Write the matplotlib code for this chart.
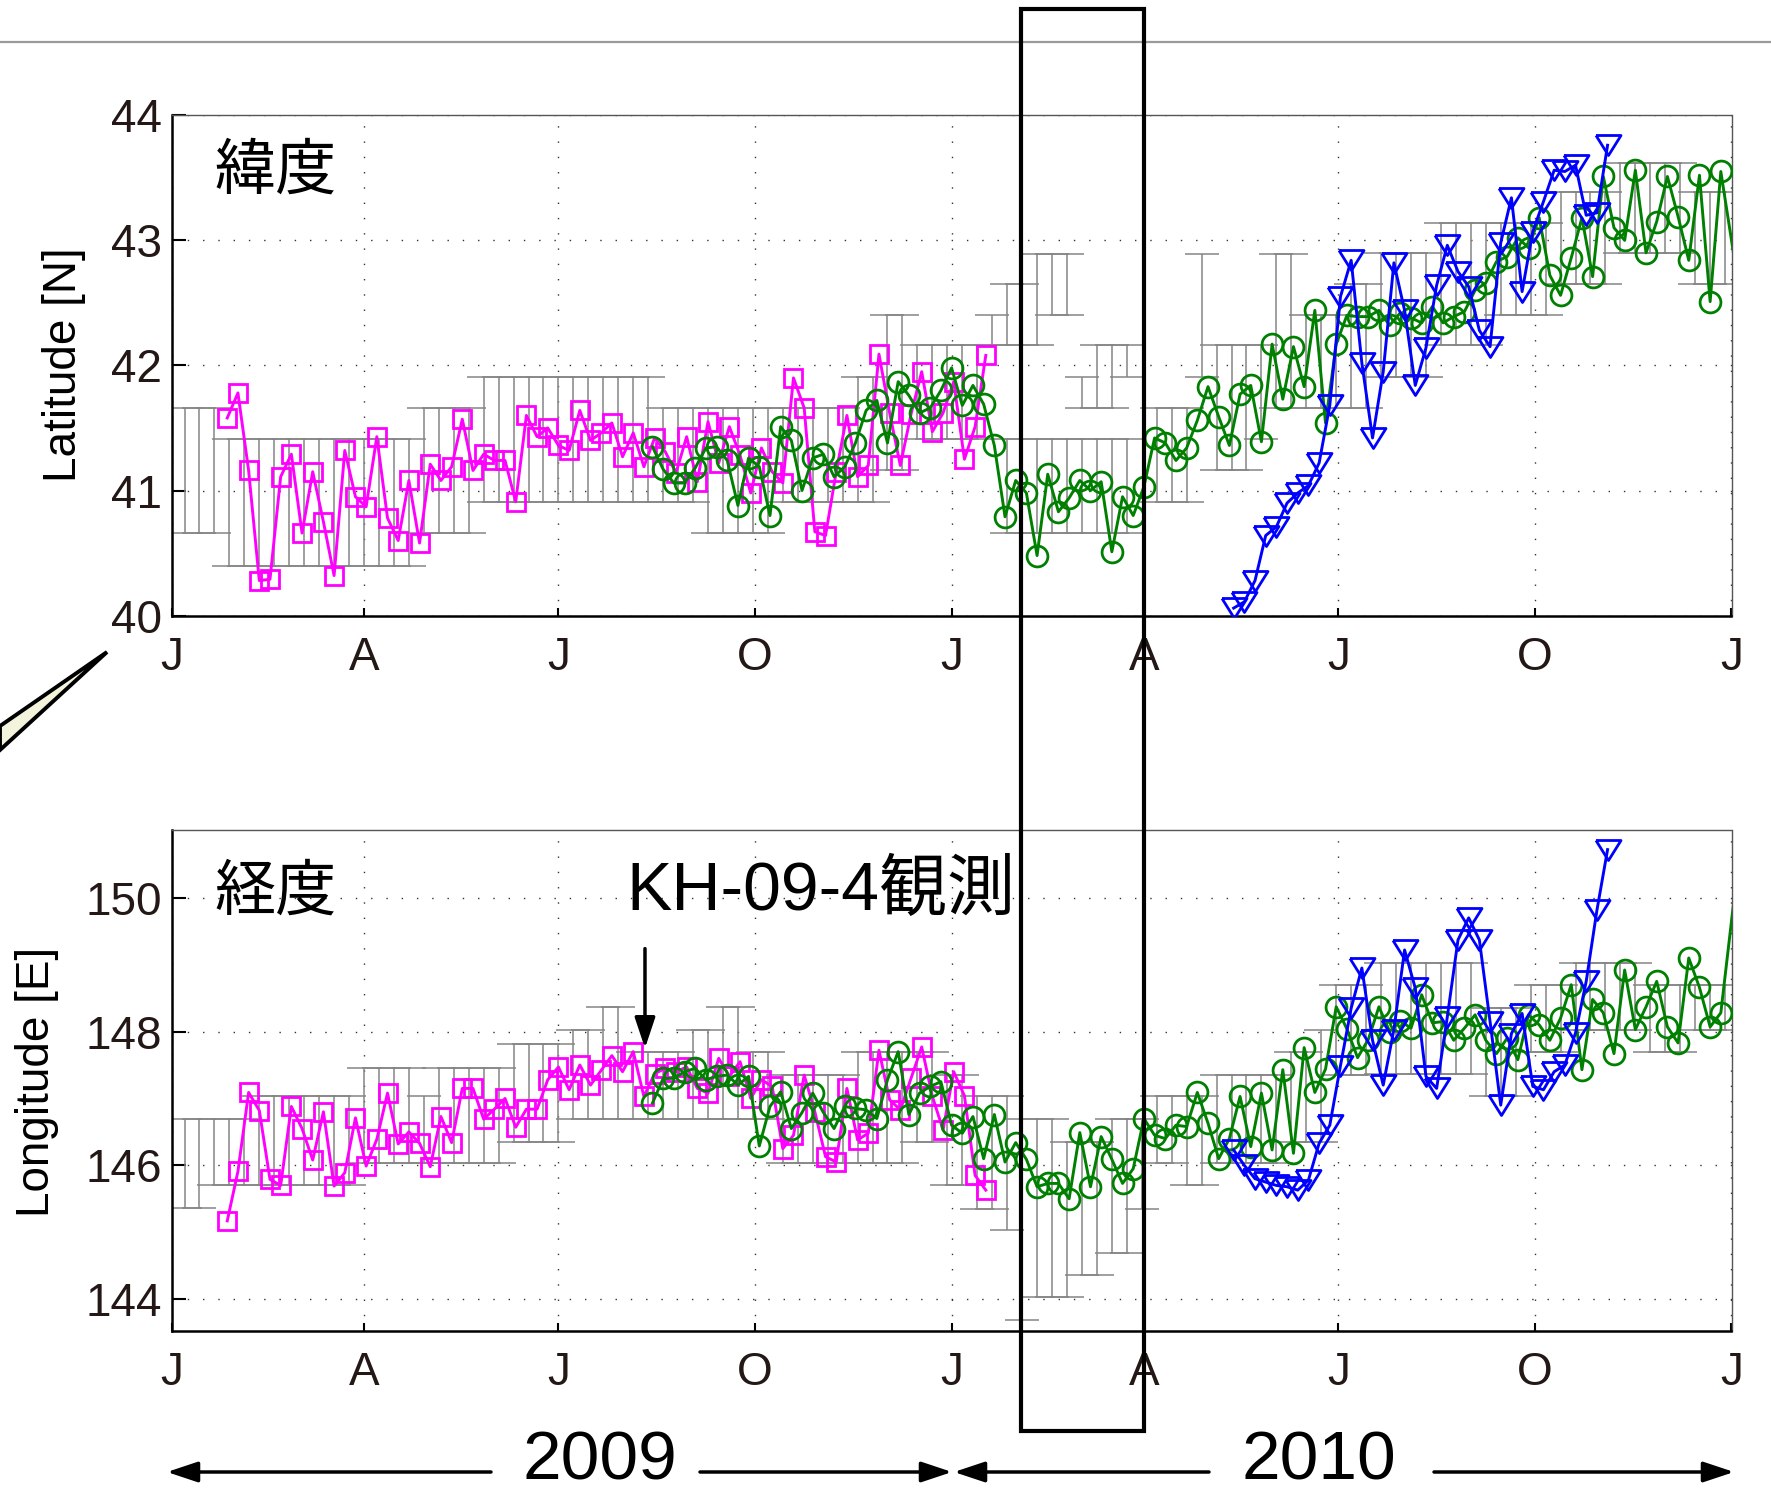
import numpy as np
import matplotlib
matplotlib.use('Agg')
import matplotlib.pyplot as plt
from matplotlib.patches import Polygon, Rectangle, FancyArrowPatch
from matplotlib.lines import Line2D

# days counted from 2009-01-01; float positions every 5 days
mag_day = np.arange(26, 382, 5)
grn_day = np.append(np.arange(225, 730, 5), 736)
blu_day = np.arange(497, 673, 5)

mag_lat = [41.58, 41.78, 41.16, 40.28, 40.29, 41.11, 41.29, 40.66, 41.15, 40.75,
           40.32, 41.32, 40.95, 40.87, 41.43, 40.78, 40.60, 41.08, 40.58, 41.21,
           41.08, 41.19, 41.57, 41.16, 41.29, 41.24, 41.24, 40.91, 41.60, 41.43,
           41.50, 41.36, 41.32, 41.64, 41.40, 41.46, 41.54, 41.27, 41.46, 41.19,
           41.42, 41.31, 41.14, 41.43, 41.07, 41.55, 41.22, 41.51, 41.28, 40.98,
           41.34, 41.15, 41.06, 41.90, 41.66, 40.67, 40.64, 41.15, 41.60, 41.11,
           41.20, 42.09, 41.62, 41.20, 41.61, 41.95, 41.47, 41.62, 41.87, 41.25,
           41.51, 42.08]
mag_lon = [145.17, 145.91, 147.09, 146.82, 145.79, 145.70, 146.88, 146.55, 146.08, 146.80,
           145.69, 145.89, 146.71, 145.99, 146.39, 147.08, 146.32, 146.50, 146.33, 145.98,
           146.73, 146.34, 147.15, 147.15, 146.69, 146.84, 147.00, 146.57, 146.84, 146.84,
           147.28, 147.47, 147.13, 147.50, 147.20, 147.42, 147.64, 147.40, 147.70, 147.03,
           147.37, 147.45, 147.40, 147.47, 147.15, 147.08, 147.60, 147.33, 147.55, 147.00,
           147.28, 147.18, 146.25, 146.45, 147.35, 146.80, 146.13, 146.05, 147.15, 146.38,
           146.48, 147.72, 146.98, 146.83, 147.30, 147.77, 147.03, 146.53, 147.40, 147.04,
           145.85, 145.63]

grn_lat = [41.35, 41.17, 41.06, 41.06, 41.18, 41.34, 41.35, 41.24, 40.88, 41.26,
           41.19, 40.80, 41.51, 41.40, 41.00, 41.26, 41.29, 41.11, 41.19, 41.38,
           41.64, 41.72, 41.38, 41.87, 41.76, 41.62, 41.66, 41.80, 41.98, 41.68,
           41.84, 41.69, 41.36, 40.79, 41.08, 40.98, 40.48, 41.13, 40.83, 40.94,
           41.08, 41.00, 41.07, 40.51, 40.95, 40.80, 41.03, 41.42, 41.38, 41.24,
           41.34, 41.56, 41.83, 41.59, 41.36, 41.77, 41.84, 41.39, 42.17, 41.73,
           42.15, 41.83, 42.44, 41.54, 42.17, 42.40, 42.39, 42.39, 42.44, 42.32,
           42.42, 42.38, 42.34, 42.47, 42.34, 42.39, 42.43, 42.60, 42.66, 42.83,
           42.87, 43.02, 42.94, 43.18, 42.72, 42.56, 42.86, 43.18, 42.71, 43.51,
           43.10, 43.00, 43.56, 42.90, 43.15, 43.51, 43.19, 42.84, 43.52, 42.51,
           43.55, 42.34]
grn_lon = [146.93, 147.30, 147.30, 147.40, 147.45, 147.28, 147.33, 147.35, 147.20, 147.33,
           146.29, 146.88, 147.10, 146.55, 146.79, 147.08, 146.79, 146.55, 146.88, 146.85,
           146.83, 146.70, 147.28, 147.70, 146.76, 147.08, 147.18, 147.25, 146.60, 146.48,
           146.73, 146.10, 146.76, 146.05, 146.34, 146.09, 145.68, 145.73, 145.73, 145.50,
           146.49, 145.68, 146.43, 146.09, 145.73, 145.95, 146.70, 146.45, 146.40, 146.60,
           146.58, 147.09, 146.63, 146.10, 146.40, 147.03, 146.28, 147.08, 146.23, 147.43,
           146.18, 147.76, 147.09, 147.44, 148.37, 148.04, 147.61, 147.88, 148.37, 148.00,
           148.16, 148.05, 148.55, 148.13, 148.15, 147.87, 148.05, 148.25, 147.87, 147.67,
           147.90, 147.58, 148.25, 148.10, 147.87, 148.20, 148.70, 147.43, 148.48, 148.28,
           147.67, 148.92, 148.03, 148.37, 148.75, 148.07, 147.83, 149.10, 148.66, 148.07,
           148.28, 151.30]

blu_lat = [40.06, 40.11, 40.28, 40.64, 40.71, 40.90, 40.98, 41.04, 41.22, 41.68,
           42.55, 42.84, 42.02, 41.42, 41.95, 42.82, 42.44, 41.84, 42.14, 42.64,
           42.96, 42.75, 42.63, 42.28, 42.15, 42.98, 43.34, 42.59, 43.07, 43.31,
           43.56, 43.55, 43.60, 43.20, 43.22, 43.76]
blu_lon = [146.23, 146.00, 145.80, 145.75, 145.70, 145.68, 145.63, 145.78, 146.33, 146.60,
           147.49, 148.35, 148.95, 147.87, 147.20, 148.03, 149.22, 148.65, 147.33, 147.15,
           148.22, 149.37, 149.70, 149.37, 148.15, 146.90, 147.97, 148.27, 147.18, 147.13,
           147.40, 147.50, 147.98, 148.75, 149.81, 150.72]

# weekly reference range: runs of weeks (first day, last day, low, high)
lat_bar_start = [6, 27, 118, 146, 230, 251, 286, 321, 335, 349, 384, 391, 405, 412,
                 426, 433, 447, 391, 461, 482, 489, 510, 517, 531, 552, 566, 594,
                 622, 650, 678, 713]
lat_bar_end = [20, 111, 139, 223, 244, 279, 314, 328, 342, 377, 384, 398, 405, 419,
               426, 440, 447, 447, 475, 482, 503, 510, 524, 545, 559, 587, 615,
               643, 671, 706, 727]
lat_bar_lo = [40.66, 40.40, 40.66, 40.91, 40.91, 40.66, 40.91, 40.91, 41.16, 41.41,
              42.16, 42.16, 42.16, 42.40, 41.66, 41.66, 41.91, 40.66, 40.91, 41.91,
              41.16, 41.41, 41.66, 41.66, 41.66, 41.91, 42.16, 42.40, 42.65, 42.90,
              42.65]
lat_bar_hi = [41.66, 41.41, 41.66, 41.91, 41.66, 41.66, 41.66, 41.91, 42.40, 42.16,
              42.40, 42.65, 42.89, 42.89, 41.91, 42.16, 42.16, 41.41, 41.66, 42.89,
              42.16, 42.16, 42.89, 42.40, 42.65, 42.90, 43.14, 43.14, 43.39, 43.62,
              43.39]

lon_bar_start = [6, 20, 41, 90, 118, 125, 160, 188, 202, 216, 244, 258, 272, 286,
                 321, 349, 363, 377, 391, 398, 405, 419, 426, 440, 454, 461, 475,
                 489, 524, 538, 545, 566, 615, 636, 657, 692, 713]
lon_bar_end = [13, 34, 83, 111, 118, 153, 181, 195, 209, 237, 251, 265, 279, 314,
               342, 356, 370, 384, 391, 398, 412, 419, 433, 447, 454, 468, 482,
               517, 531, 538, 559, 608, 629, 650, 685, 706, 727]
lon_bar_lo = [145.37, 145.70, 145.70, 146.03, 146.03, 146.03, 146.35, 146.69, 146.69,
              146.69, 146.69, 146.69, 146.69, 146.03, 146.03, 146.35, 145.70, 145.35,
              145.03, 143.69, 144.03, 144.03, 144.36, 144.69, 145.35, 146.03, 145.70,
              146.03, 146.35, 146.35, 147.35, 147.36, 147.03, 147.70, 148.02, 147.70,
              148.02]
lon_bar_hi = [146.70, 146.70, 147.03, 147.45, 147.03, 147.45, 147.81, 148.02, 148.36,
              147.70, 148.02, 148.36, 147.70, 147.35, 147.70, 147.70, 147.35, 147.03,
              147.03, 146.69, 146.69, 146.35, 146.35, 146.69, 146.69, 147.03, 147.03,
              147.35, 147.70, 148.02, 148.70, 149.02, 148.35, 148.70, 149.02, 148.70,
              148.70]

month_ticks = [0, 90, 181, 273, 365, 455, 546, 638, 730]
month_labels = ['J', 'A', 'J', 'O', 'J', 'A', 'J', 'O', 'J']

plt.rcParams['font.family'] = ['Liberation Sans', 'Noto Sans CJK JP', 'DejaVu Sans']

W, H = 1771, 1496
fig = plt.figure(figsize=(W / 100, H / 100), dpi=100)

def fx(px):
    return px / W

def fy(py):
    return 1 - py / H

ax_left, ax_w = fx(171.7), fx(1731.5) - fx(171.7)
ax1 = fig.add_axes([ax_left, fy(615.6), ax_w, fy(115.2) - fy(615.6)])
ax2 = fig.add_axes([ax_left, fy(1330.6), ax_w, fy(830.2) - fy(1330.6)])

# wide downward triangle, closed outline
tri_down = [(-0.625, 0.5), (0.625, 0.5), (0.0, -0.5), (-0.625, 0.5)]
grey = '#858585'
ink = '#231815'


def weekly_bars(start, end, lo, hi):
    xs, lows, highs = [], [], []
    for d0, d1, a, b in zip(start, end, lo, hi):
        for d in range(d0, d1 + 1, 7):
            xs.append(d)
            lows.append(a)
            highs.append(b)
    return np.array(xs), np.array(lows), np.array(highs)


def draw_panel(ax, bars, m, g, b):
    bx, blo, bhi = bars
    mid = (blo + bhi) / 2
    half = (bhi - blo) / 2
    ax.errorbar(bx, mid, yerr=[half, half], fmt='none', ecolor=grey,
                elinewidth=1.1, capsize=12.3, capthick=1.1, zorder=1)
    ax.plot(mag_day, m, '-s', color='#ff00ff', mfc='none', mec='#ff00ff',
            ms=13.5, mew=2.0, lw=2.1, zorder=3)
    ax.plot(grn_day, g, '-o', color='#008000', mfc='none', mec='#008000',
            ms=15, mew=2.0, lw=2.1, zorder=4)
    ax.plot(blu_day, b, '-', marker=tri_down, color='#0000ff', mfc='none',
            mec='#0000ff', ms=18, mew=2.0, lw=2.1, zorder=5)

    ax.set_xlim(0, 730)
    ax.set_xticks(month_ticks)
    ax.set_xticklabels(month_labels)
    ax.grid(True, linestyle=(0, (1, 10)), color='#333333', lw=1.0)
    ax.set_axisbelow(True)
    ax.tick_params(axis='both', direction='in', labelsize=33, labelcolor=ink,
                   width=1.5, top=False, right=False)
    ax.tick_params(axis='x', length=6, pad=15)
    ax.tick_params(axis='y', length=10, pad=7)
    for side in ['left', 'bottom']:
        ax.spines[side].set_linewidth(1.8)
    for side in ['top', 'right']:
        ax.spines[side].set_linewidth(1.0)
        ax.spines[side].set_color('#555555')


draw_panel(ax1, weekly_bars(lat_bar_start, lat_bar_end, lat_bar_lo, lat_bar_hi),
           mag_lat, grn_lat, blu_lat)
ax1.set_ylim(40, 44)
ax1.set_yticks([40, 41, 42, 43, 44])
ax1.text(20, 43.55, '緯度', fontsize=44, family=['Noto Sans CJK JP'],
         ha='left', va='center', zorder=6)

draw_panel(ax2, weekly_bars(lon_bar_start, lon_bar_end, lon_bar_lo, lon_bar_hi),
           mag_lon, grn_lon, blu_lon)
ax2.set_ylim(143.53, 151.01)
ax2.set_yticks([144, 146, 148, 150])
ax2.text(20, 150.08, '経度', fontsize=44, family=['Noto Sans CJK JP'],
         ha='left', va='center', zorder=6)
ax2.text(213, 150.08, 'KH-09-4観測', fontsize=49,
         family=['Liberation Sans', 'Noto Sans CJK JP'], ha='left', va='center', zorder=6)
ax2.annotate('', xy=(221.5, 147.75), xytext=(221.5, 149.24),
             arrowprops=dict(arrowstyle='-|>,head_length=0.75,head_width=0.25',
                             lw=2.5, color='k', mutation_scale=25,
                             shrinkA=0, shrinkB=0), zorder=6)

# axis titles
fig.text(fx(64), fy(365), 'Latitude [N]', rotation=90, fontsize=33,
         ha='center', va='center')
fig.text(fx(37), fy(1082), 'Longitude [E]', rotation=90, fontsize=33,
         ha='center', va='center')

# year spans under the lower panel
arrow_kw = dict(arrowstyle='-|>,head_length=0.75,head_width=0.25', lw=2.5,
                color='k', mutation_scale=25, shrinkA=0, shrinkB=0)
for x0, x1 in [(491, 167), (700, 952), (1209, 954), (1434, 1734)]:
    fig.add_artist(FancyArrowPatch((fx(x0), fy(1472)), (fx(x1), fy(1472)),
                                   transform=fig.transFigure, **arrow_kw))
fig.text(fx(600), fy(1480), '2009', fontsize=50, ha='center', va='baseline')
fig.text(fx(1319), fy(1480), '2010', fontsize=50, ha='center', va='baseline')

# highlighted Feb-Mar 2010 window across both panels
def day_to_fig(d):
    return ax_left + d / 730 * ax_w

x0, x1 = day_to_fig(397.5), day_to_fig(455)
fig.add_artist(Rectangle((x0, fy(1431)), x1 - x0, fy(9) - fy(1431),
                         transform=fig.transFigure, fill=False, ec='k', lw=3, zorder=10))

# separator line at the top and the callout pointer on the left
fig.add_artist(Line2D([0, 1], [fy(42), fy(42)], transform=fig.transFigure,
                      color='#9a9a9a', lw=1.6))
fig.add_artist(Polygon([[0, fy(726)], [fx(107), fy(652)], [0, fy(750)]], closed=True,
                       transform=fig.transFigure, fc='#f4f4dc', ec='k', lw=2.8))

fig.savefig('out.png', dpi=100)
